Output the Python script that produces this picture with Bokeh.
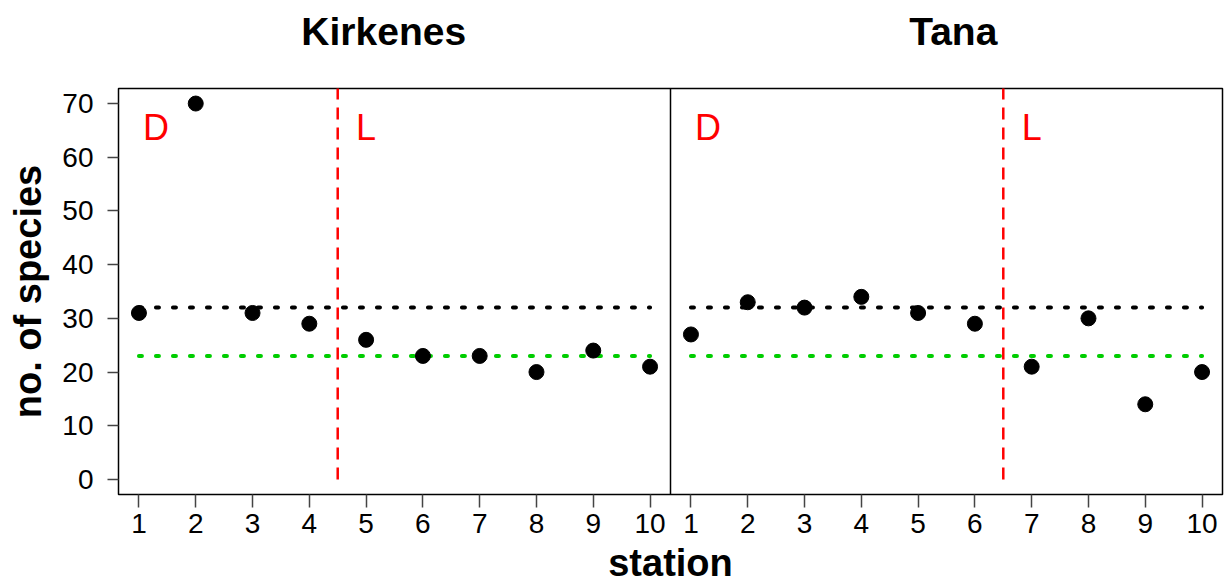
from bokeh.plotting import figure
from bokeh.models import Span, FixedTicker, Range1d, CustomJSTickFormatter, LinearAxis
from bokeh.core.properties import value
from bokeh.embed import file_html
from bokeh.resources import INLINE

# ---- data ----
stations = [1, 2, 3, 4, 5, 6, 7, 8, 9, 10]
kirkenes = [31, 70, 31, 29, 26, 23, 23, 20, 24, 21]
tana = [27, 33, 32, 34, 31, 29, 21, 30, 14, 20]
sites = ["Kirkenes", "Tana"]
series = [kirkenes, tana]
split_at = [4.5, 6.5]
ref_black = 32
ref_green = 23
zone_text = ["D", "L"]
y_ticks = [0, 10, 20, 30, 40, 50, 60, 70]

FONT = "Liberation Sans"
x_lo, x_hi = 0.64, 10.36
pw = round(x_hi - x_lo, 6)  # panel width in data units
title_pos = [5.31, 5.62]

p = figure(width=1231, height=587,
           x_range=Range1d(x_lo, x_lo + 2 * pw), y_range=Range1d(-2.8, 72.8),
           output_backend="svg", toolbar_location=None,
           min_border_left=118, min_border_right=9, min_border_top=88, min_border_bottom=93)

p.xgrid.visible = False
p.ygrid.visible = False
p.outline_line_color = "black"
p.outline_line_width = 1.5
p.background_fill_color = "white"
p.border_fill_color = "white"

for k, (name, ys) in enumerate(zip(sites, series)):
    off = k * pw
    xs = [s + off for s in stations]
    p.segment(x0=[stations[0] + off], x1=[stations[-1] + off], y0=[ref_black], y1=[ref_black],
              line_color="black", line_width=4, line_dash="3 14", line_cap="round")
    p.segment(x0=[stations[0] + off], x1=[stations[-1] + off], y0=[ref_green], y1=[ref_green],
              line_color="#00cd00", line_width=4, line_dash="3 14", line_cap="round")
    p.segment(x0=[split_at[k] + off], x1=[split_at[k] + off], y0=[0], y1=[80],
              line_color="red", line_width=2.5, line_dash="12 8")
    p.scatter(x=xs, y=ys, size=15, color="black")
    p.text(x=[1.3 + off, split_at[k] + 0.5 + off], y=[65.5, 65.5], text=zone_text,
           text_color="red", text_font_size="36px", text_font=value(FONT),
           text_align="center", text_baseline="middle")

p.add_layout(Span(location=x_hi, dimension="height", line_color="black", line_width=1.5))

bottom = p.below[0]
left = p.left[0]
bottom.ticker = FixedTicker(ticks=[s + k * pw for k in range(2) for s in stations])
bottom.formatter = CustomJSTickFormatter(args=dict(pw=pw, hi=x_hi),
                                         code="return String(Math.round(tick > hi ? tick - pw : tick));")
left.ticker = FixedTicker(ticks=y_ticks)
bottom.axis_label = "station"
left.axis_label = "no. of species"

for ax in (bottom, left):
    ax.axis_line_color = None
    ax.major_tick_in = 0
    ax.major_tick_line_color = "#444444"
    ax.major_tick_line_width = 1.5
    ax.minor_tick_line_color = None
    ax.major_label_text_font = FONT
    ax.major_label_text_font_size = "28px"
    ax.major_label_text_color = "black"
    ax.axis_label_text_font = FONT
    ax.axis_label_text_font_size = "38px"
    ax.axis_label_text_font_style = "bold"
    ax.axis_label_text_color = "black"

bottom.major_tick_out = 13
bottom.major_label_standoff = 6
bottom.axis_label_standoff = 6
left.major_tick_out = 11
left.major_label_standoff = 14
left.axis_label_standoff = 10

# panel titles as a top axis
top = LinearAxis(ticker=FixedTicker(ticks=[title_pos[k] + k * pw for k in range(2)]),
                 formatter=CustomJSTickFormatter(args=dict(names=sites, hi=x_hi),
                                                 code="return tick < hi ? names[0] : names[1];"))
top.axis_line_color = None
top.major_tick_line_color = None
top.minor_tick_line_color = None
top.major_tick_in = 0
top.major_tick_out = 0
top.major_label_standoff = 36
top.major_label_text_font = FONT
top.major_label_text_font_size = "39px"
top.major_label_text_font_style = "bold"
top.major_label_text_color = "black"
p.add_layout(top, "above")

open("out.html", "w").write(file_html(p, INLINE))
